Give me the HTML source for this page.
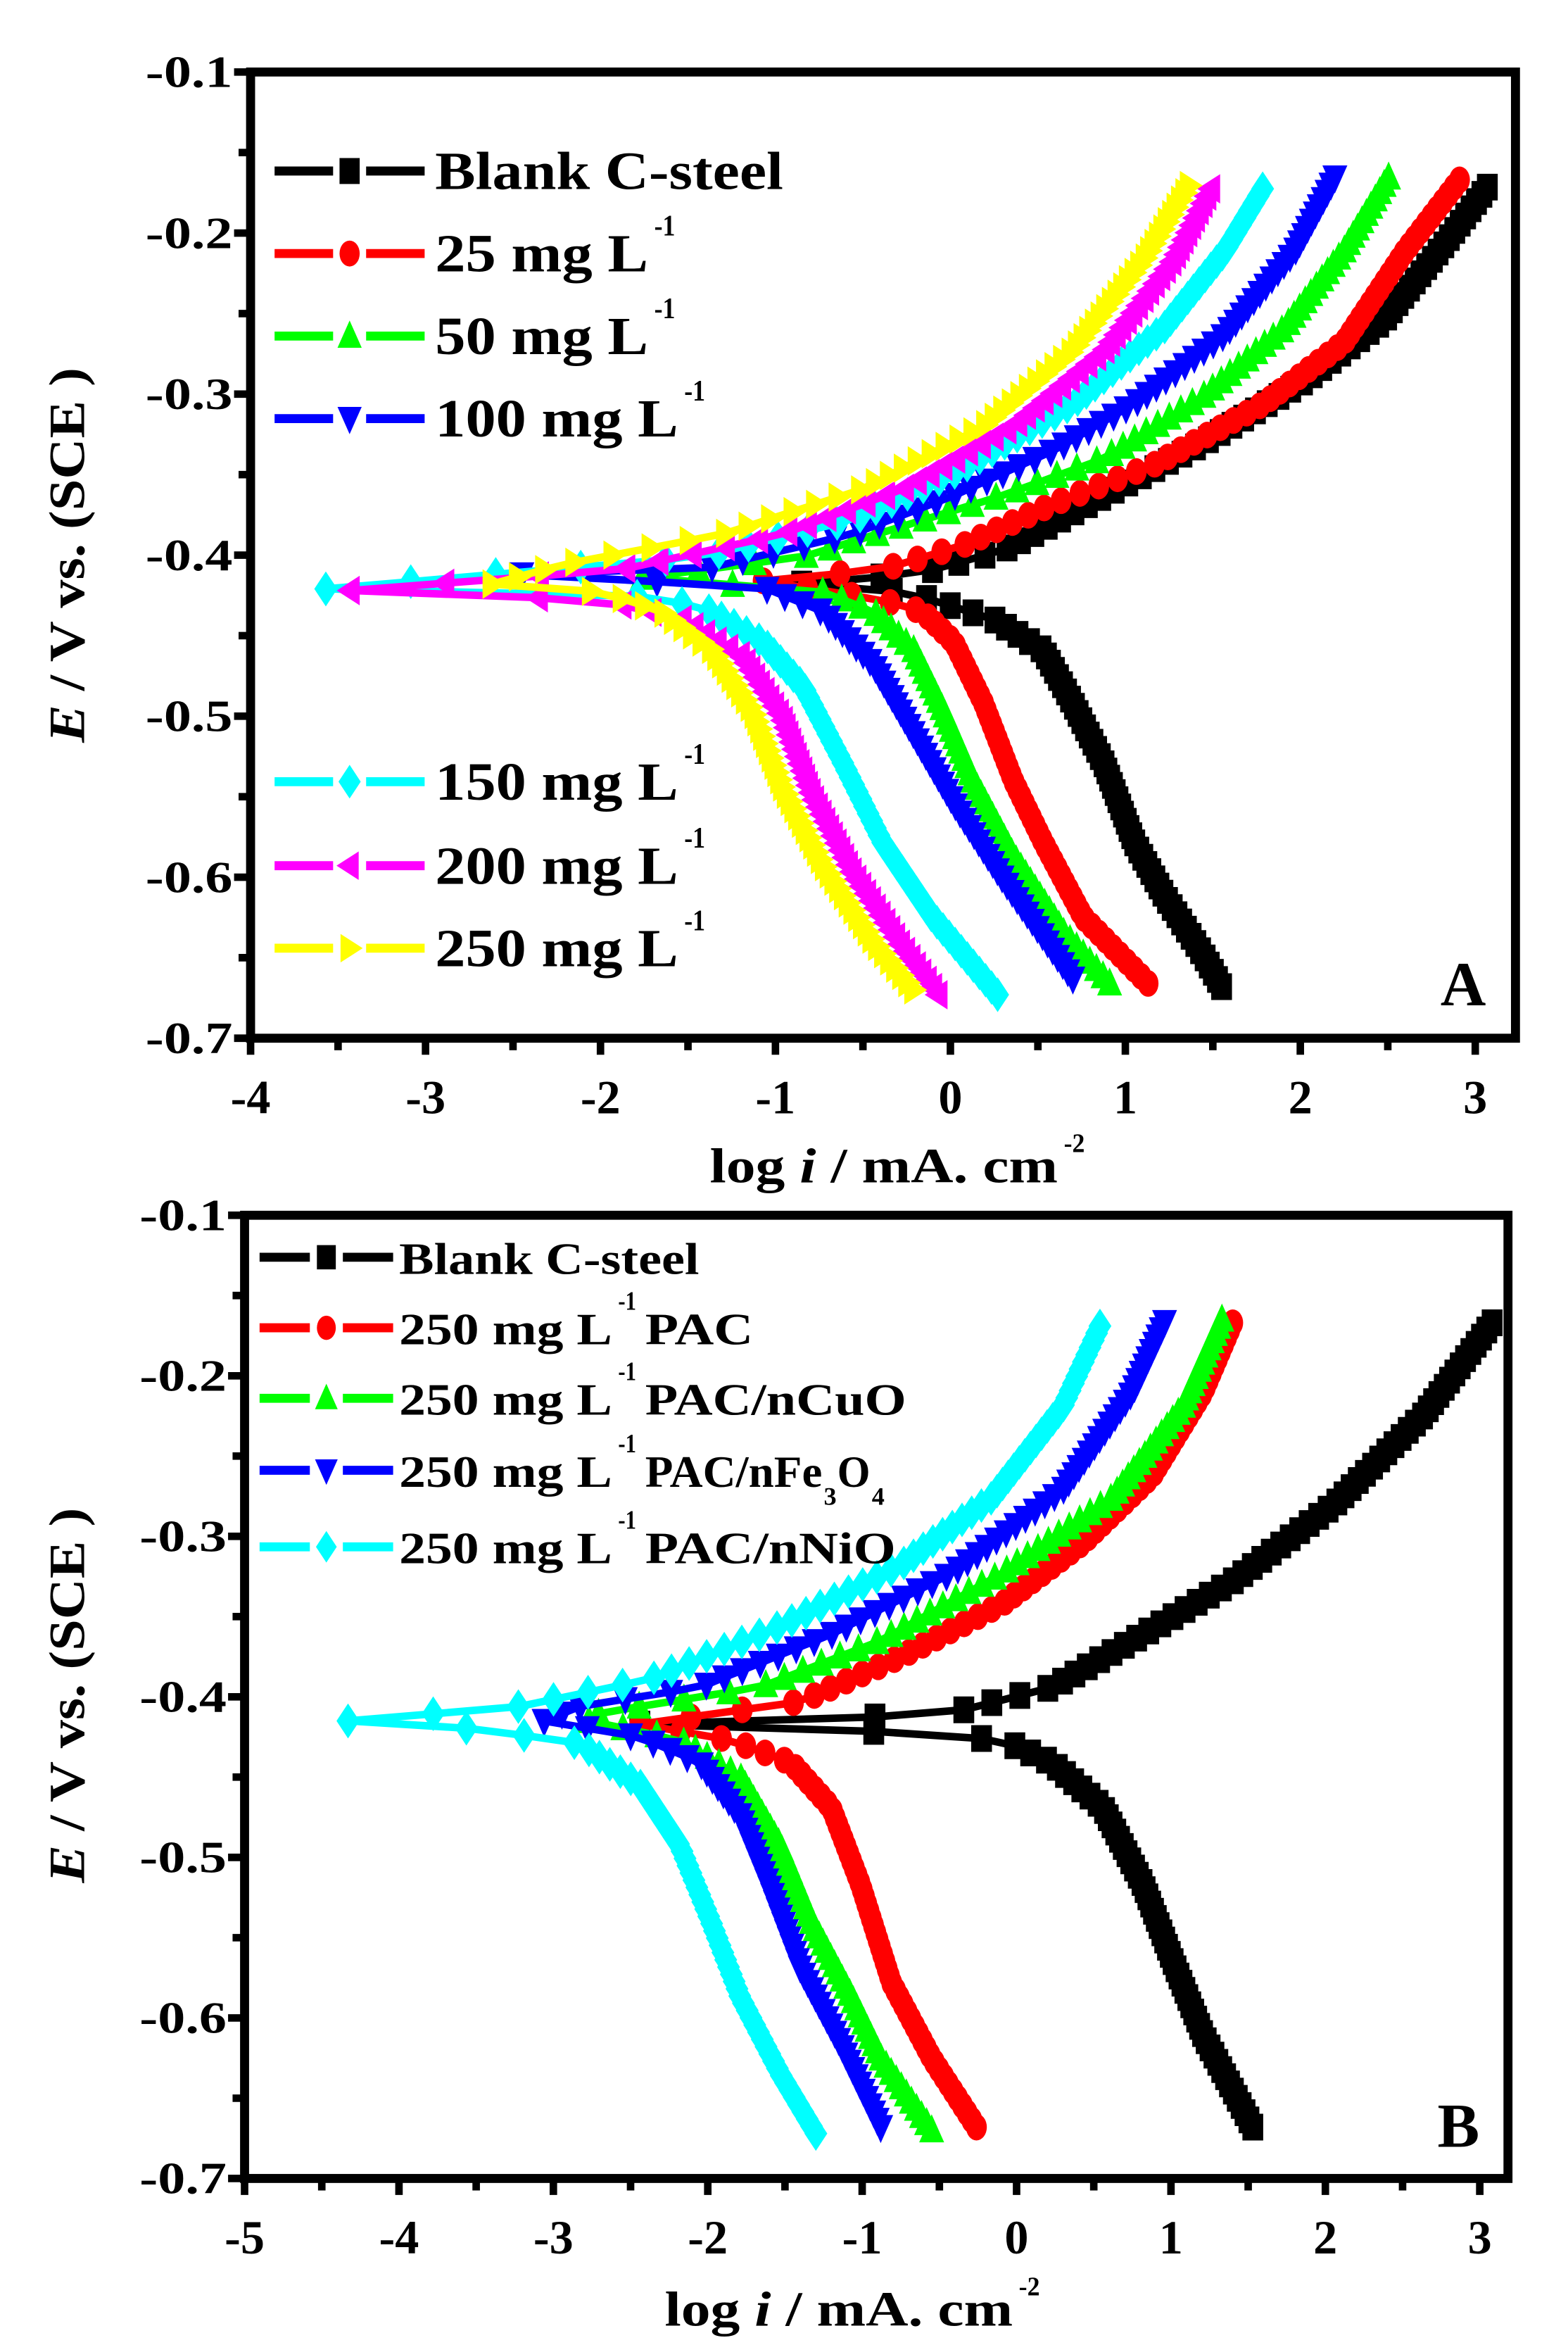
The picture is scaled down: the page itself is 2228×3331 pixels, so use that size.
<!DOCTYPE html>
<html><head><meta charset="utf-8"><style>html,body{margin:0;padding:0;background:#fff}svg{display:block}text{font-family:"Liberation Serif","Times New Roman",serif;font-weight:bold}</style></head>
<body>
<svg id="s" xmlns="http://www.w3.org/2000/svg" width="2228" height="3331" viewBox="0 0 1045 1563" preserveAspectRatio="none"></svg>
<script>
const S=document.getElementById('s');let h='';
function T(x,y,s,sz,w,anchor,extra){h+=`<text x="${x}" y="${y}" font-size="${sz}" ${w?`textLength="${w}" lengthAdjust="spacingAndGlyphs"`:''} text-anchor="${anchor||'start'}" ${extra||''}>${s}</text>`;}
function marker(type,x,y,c,sc){sc=sc||1;const w=4.2*sc,hh=5.4*sc;let p;
 if(type=='sq')p=`M${x-w} ${y-hh}h${2*w}v${2*hh}h${-2*w}z`;
 else if(type=='ci')return `<ellipse cx="${x}" cy="${y}" rx="${w}" ry="${hh}" fill="${c}"/>`;
 else if(type=='up')p=`M${x} ${y-hh*1.2}L${x+w*1.2} ${y+hh*0.9}L${x-w*1.2} ${y+hh*0.9}z`;
 else if(type=='dn')p=`M${x} ${y+hh*1.2}L${x+w*1.2} ${y-hh*0.9}L${x-w*1.2} ${y-hh*0.9}z`;
 else if(type=='di')p=`M${x} ${y-hh*1.3}L${x+w*1.1} ${y}L${x} ${y+hh*1.3}L${x-w*1.1} ${y}z`;
 else if(type=='lt')p=`M${x-w*1.3} ${y}L${x+w*0.9} ${y-hh*1.1}L${x+w*0.9} ${y+hh*1.1}z`;
 else if(type=='rt')p=`M${x+w*1.3} ${y}L${x-w*0.9} ${y-hh*1.1}L${x-w*0.9} ${y+hh*1.1}z`;
 return `<path d="${p}" fill="${c}"/>`;}
function interp(pts,E){for(let i=0;i<pts.length-1;i++){const a=pts[i],b=pts[i+1];if((E-a[1])*(E-b[1])<=0){const t=(E-a[1])/(b[1]-a[1]||1e-9);return a[0]+t*(b[0]-a[0]);}}return null;}
function panel(P){
 const X=v=>P.l+(v-P.x0)*P.ux, Y=E=>P.t+(-0.1-E)*P.uy*10;
 for(const c of P.curves){
  const branches=[c.a,c.c];let line='',marks='';
  for(const br of branches){
   const pts=[c.s].concat(br);const E0=c.s[1],E1=br[br.length-1][1];const dir=E1>E0?1:-1;
   const n=Math.round(Math.abs(E1-E0)/0.0045);
   let poly=[];
   for(let k=0;k<=n;k++){const E=E0+dir*k*Math.abs(E1-E0)/n;const x=interp(pts,E);if(x===null)continue;poly.push([X(x),Y(E)]);}
   line+=`<polyline points="${poly.map(p=>p[0].toFixed(1)+','+p[1].toFixed(1)).join(' ')}" fill="none" stroke="${c.col}" stroke-width="5"/>`;
   for(const p of poly)marks+=marker(c.m,p[0],p[1],c.col,1.65);
  }
  h+=line+marks;
 }
 h+=`<rect x="${P.l}" y="${P.t}" width="${P.r-P.l}" height="${P.b-P.t}" fill="none" stroke="#000" stroke-width="6"/>`;
 for(let k=0;k<=12;k++){const y=P.t+k*(P.b-P.t)/12;const L=k%2?8:11;h+=`<line x1="${P.l-L}" y1="${y}" x2="${P.l}" y2="${y}" stroke="#000" stroke-width="5"/>`;
  if(k%2==0)T(P.l-12,y+10,'-0.'+(1+k/2),30,58,'end');}
 const nx=P.x1-P.x0;
 for(let k=0;k<=2*nx;k++){const v=P.x0+k/2,x=X(v);if(x>P.r+1)continue;const L=k%2?8:11;h+=`<line x1="${x}" y1="${P.b}" x2="${x}" y2="${P.b+L}" stroke="#000" stroke-width="5"/>`;
  if(k%2==0)T(x,P.b+50,String(v),32,null,'middle');}
}
const A={l:167,r:1010,t:48,b:692,x0:-4,x1:3,ux:116.6,uy:107.33,curves:[
 {col:'#000',m:'sq',s:[-0.85,-0.418],a:[[-0.56,-0.416],[-0.10,-0.409],[0.30,-0.397],[0.88,-0.363],[1.45,-0.33],[2.02,-0.292],[2.48,-0.254],[2.83,-0.206],[3.10,-0.167]],c:[[-0.27,-0.423],[-0.1,-0.428],[0.25,-0.44],[0.53,-0.459],[0.70,-0.492],[0.88,-0.53],[1.05,-0.578],[1.22,-0.611],[1.45,-0.649],[1.55,-0.668]]},
 {col:'#ff0000',m:'ci',s:[-1.07,-0.416],a:[[-0.39,-0.409],[0.07,-0.394],[0.59,-0.368],[1.16,-0.344],[1.79,-0.306],[2.25,-0.268],[2.60,-0.211],[2.91,-0.167]],c:[[-0.39,-0.428],[-0.16,-0.435],[0.02,-0.454],[0.19,-0.492],[0.36,-0.54],[0.53,-0.578],[0.76,-0.625],[1.13,-0.666]]},
 {col:'#00ff00',m:'up',s:[-1.76,-0.414],a:[[-0.84,-0.401],[-0.27,-0.382],[0.30,-0.363],[0.88,-0.34],[1.45,-0.301],[1.91,-0.259],[2.25,-0.211],[2.53,-0.161]],c:[[-0.73,-0.423],[-0.44,-0.435],[-0.21,-0.459],[-0.04,-0.497],[0.13,-0.54],[0.36,-0.587],[0.65,-0.635],[0.91,-0.666]]},
 {col:'#0000ff',m:'dn',s:[-2.45,-0.412],a:[[-1.42,-0.409],[-0.56,-0.387],[0.02,-0.363],[0.59,-0.335],[1.05,-0.306],[1.57,-0.263],[1.97,-0.211],[2.22,-0.161]],c:[[-1.07,-0.42],[-0.73,-0.435],[-0.44,-0.468],[-0.21,-0.511],[0.02,-0.554],[0.30,-0.601],[0.70,-0.663]]},
 {col:'#00ffff',m:'di',s:[-3.57,-0.421],a:[[-1.42,-0.401],[-0.56,-0.378],[0.02,-0.349],[0.70,-0.306],[1.22,-0.259],[1.57,-0.211],[1.81,-0.168]],c:[[-1.99,-0.422],[-1.42,-0.432],[-1.07,-0.454],[-0.84,-0.482],[-0.61,-0.53],[-0.39,-0.578],[-0.10,-0.625],[0.27,-0.673]]},
 {col:'#ff00ff',m:'lt',s:[-3.43,-0.422],a:[[-1.88,-0.409],[-0.96,-0.387],[-0.27,-0.359],[0.36,-0.32],[0.88,-0.273],[1.28,-0.216],[1.51,-0.168]],c:[[-1.99,-0.428],[-1.53,-0.44],[-1.19,-0.463],[-0.96,-0.501],[-0.79,-0.549],[-0.56,-0.597],[-0.27,-0.644],[-0.07,-0.673]]},
 {col:'#ffff00',m:'rt',s:[-2.62,-0.418],a:[[-2.22,-0.406],[-1.30,-0.387],[-0.50,-0.359],[0.19,-0.32],[0.70,-0.273],[1.11,-0.216],[1.39,-0.166]],c:[[-1.99,-0.423],[-1.65,-0.435],[-1.36,-0.459],[-1.13,-0.497],[-0.96,-0.544],[-0.73,-0.592],[-0.44,-0.64],[-0.21,-0.67]]}
]};
const B={l:163,r:1005,t:810,b:1452,x0:-5,x1:3,ux:102.9,uy:107,curves:[
 {col:'#000',m:'sq',s:[-2.44,-0.417],a:[[-1.40,-0.415],[-0.42,-0.41],[0.23,-0.394],[0.75,-0.365],[1.40,-0.328],[2.06,-0.28],[2.64,-0.224],[3.08,-0.167]],c:[[-0.75,-0.422],[-0.09,-0.427],[0.23,-0.441],[0.56,-0.469],[0.82,-0.517],[1.01,-0.564],[1.21,-0.611],[1.53,-0.668]]},
 {col:'#ff0000',m:'ci',s:[-2.44,-0.417],a:[[-1.40,-0.403],[-0.75,-0.375],[-0.09,-0.342],[0.43,-0.304],[0.88,-0.262],[1.21,-0.21],[1.40,-0.167]],c:[[-1.85,-0.427],[-1.46,-0.441],[-1.20,-0.469],[-1.01,-0.517],[-0.81,-0.578],[-0.55,-0.625],[-0.26,-0.668]]},
 {col:'#00ff00',m:'up',s:[-2.77,-0.415],a:[[-2.70,-0.41],[-1.66,-0.394],[-0.88,-0.365],[-0.09,-0.323],[0.62,-0.276],[1.08,-0.219],[1.33,-0.165]],c:[[-2.18,-0.427],[-1.79,-0.45],[-1.53,-0.493],[-1.33,-0.54],[-1.07,-0.587],[-0.88,-0.625],[-0.55,-0.67]]},
 {col:'#0000ff',m:'dn',s:[-3.06,-0.415],a:[[-2.83,-0.406],[-2.05,-0.394],[-1.20,-0.361],[-0.42,-0.323],[0.30,-0.271],[0.75,-0.21],[0.98,-0.162]],c:[[-2.44,-0.425],[-2.05,-0.441],[-1.79,-0.474],[-1.59,-0.521],[-1.40,-0.569],[-1.14,-0.616],[-0.88,-0.668]]},
 {col:'#00ffff',m:'di',s:[-4.33,-0.415],a:[[-3.22,-0.406],[-2.37,-0.389],[-1.53,-0.356],[-0.75,-0.318],[-0.16,-0.276],[0.30,-0.219],[0.54,-0.169]],c:[[-3.48,-0.42],[-2.83,-0.429],[-2.44,-0.455],[-2.18,-0.493],[-1.98,-0.54],[-1.79,-0.587],[-1.53,-0.635],[-1.30,-0.672]]}
]};
panel(A);panel(B);
function leg(x1,x2,y,col,m,sc){h+=`<line x1="${x1}" y1="${y}" x2="${x2}" y2="${y}" stroke="${col}" stroke-width="6"/>`;h+=`<rect x="${(x1+x2)/2-11}" y="${y-5}" width="22" height="10" fill="#fff"/>`;h+=marker(m,(x1+x2)/2,y,col,sc);}
const LA=[[114,'#000','sq','Blank C-steel',232,null],[169,'#ff0000','ci','25 mg L',142,436],[224,'#00ff00','up','50 mg L',142,436],[279,'#0000ff','dn','100 mg L',162,456],[521,'#00ffff','di','150 mg L',162,456],[577,'#ff00ff','lt','200 mg L',162,456],[632,'#ffff00','rt','250 mg L',162,456]];
for(const r of LA){leg(183,283,r[0],r[1],r[2],1.6);T(290,r[0]+12,r[3],36,r[4]);if(r[5])T(r[5],r[0]-12,'-1',20,14);}
const LB=[[838,'#000','sq','Blank C-steel',200,null],[885,'#ff0000','ci','250 mg L',142,'PAC',72],[932,'#00ff00','up','250 mg L',142,'PAC/nCuO',174],[980,'#0000ff','dn','250 mg L',142,null],[1031,'#00ffff','di','250 mg L',142,'PAC/nNiO',167]];
for(const r of LB){leg(173,262,r[0],r[1],r[2],1.5);T(266,r[0]+11,r[3],30,r[4]);if(r[3]!='Blank C-steel'){T(412,r[0]-12,'-1',18,12);if(r[5])T(430,r[0]+11,r[5],30,r[6]);}}
T(430,991,'PAC/nFe',30,118);T(549,1003,'3',17);T(558,991,'O',30,22);T(581,1003,'4',17);
function ylab(cx,cy){h+=`<text transform="translate(${cx},${cy}) rotate(-90)" font-size="34" text-anchor="middle" textLength="250" lengthAdjust="spacingAndGlyphs"><tspan font-style="italic">E</tspan> / V vs. (SCE )</text>`;}
ylab(56,370);ylab(56,1130);
h+=`<text x="473" y="788" font-size="33" textLength="232" lengthAdjust="spacingAndGlyphs">log <tspan font-style="italic">i</tspan> /  mA. cm</text>`;T(709,768,'-2',18,14);
h+=`<text x="443" y="1550" font-size="33" textLength="232" lengthAdjust="spacingAndGlyphs">log <tspan font-style="italic">i</tspan> /  mA. cm</text>`;T(679,1530,'-2',18,14);
T(960,670,'A',42);T(958,1431,'B',42);
S.innerHTML=h;
</script>
</body></html>
